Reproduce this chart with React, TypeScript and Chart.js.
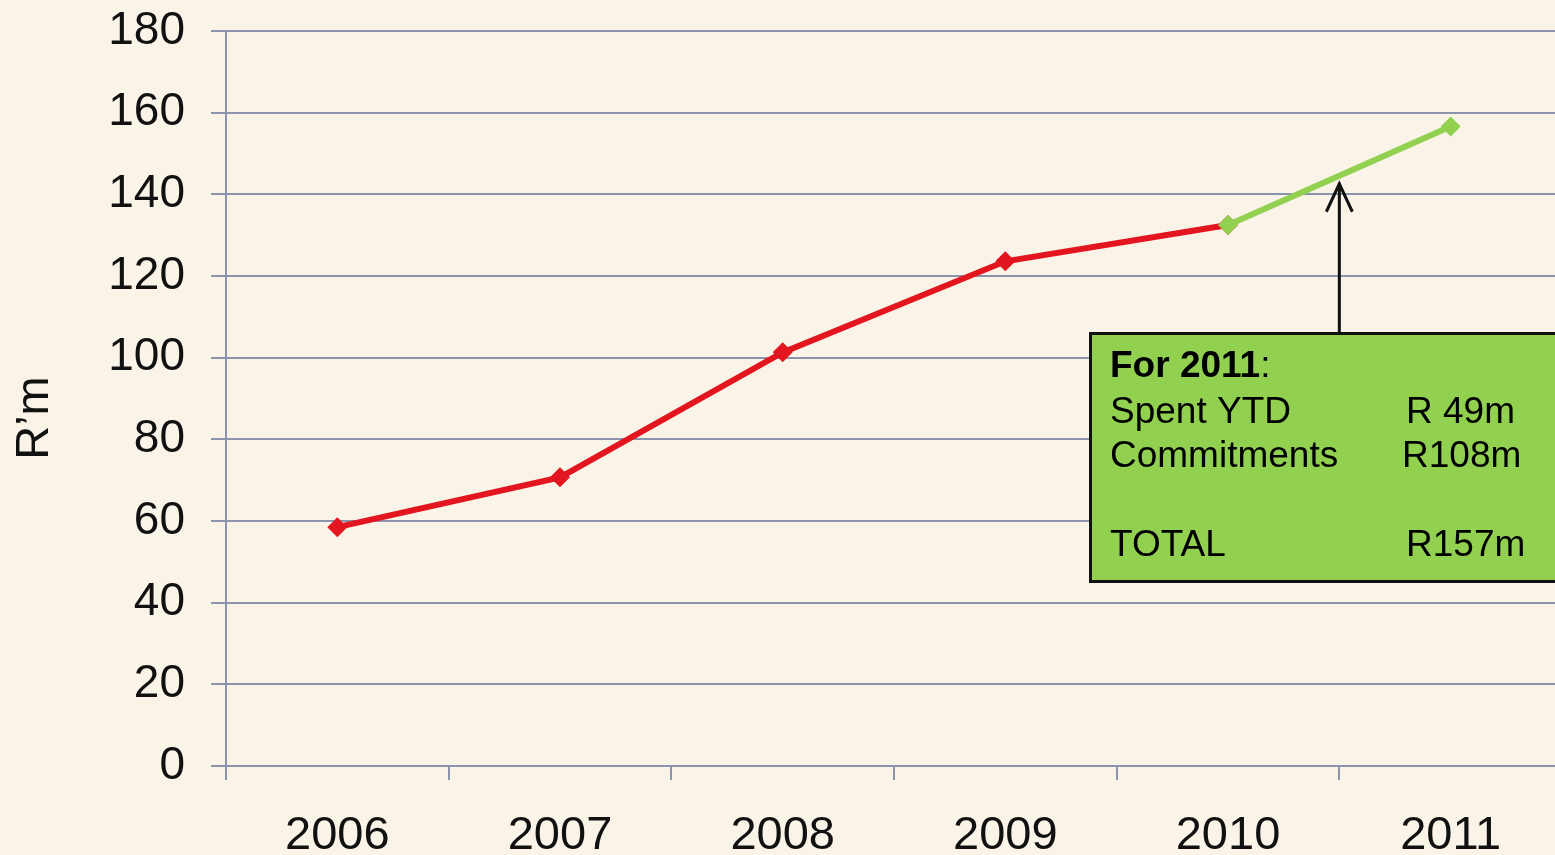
import React, { useEffect, useRef } from "react";
import { Chart, registerables } from "chart.js";

Chart.register(...registerables);

const years = ["2006", "2007", "2008", "2009", "2010", "2011"];
const actualSpend = [58.5, 70.7, 101.3, 123.6, 132.5, null];
const forecastSpend = [null, null, null, null, 132.5, 156.6];
const yTitle = "R\u2019m";
const noteTitle = "For 2011";
const noteRows = [
  ["Spent YTD", "R 49m"],
  ["Commitments", "R108m"],
  ["", ""],
  ["TOTAL", "R157m"],
];

const BG = "#f9f3e8";
const GRID = "#8a94ad";
const FONT = "'Liberation Sans', Arial, sans-serif";

const overlayPlugin = {
  id: "overlay",
  beforeDraw(chart: any) {
    const { ctx } = chart;
    ctx.save();
    ctx.fillStyle = BG;
    ctx.fillRect(0, 0, chart.width, chart.height);
    ctx.restore();
  },
  afterDraw(chart: any) {
    const { ctx } = chart;
    const x = chart.scales.x;
    const y = chart.scales.y;
    ctx.save();
    // y-axis title
    ctx.translate(35, 418);
    ctx.rotate(-Math.PI / 2);
    ctx.fillStyle = "#111";
    ctx.font = `47px ${FONT}`;
    ctx.textAlign = "center";
    ctx.textBaseline = "middle";
    ctx.fillText(yTitle, 0, 0);
    ctx.restore();

    // arrow pointing to forecast line
    const ax = (x.getPixelForValue(4) + x.getPixelForValue(5)) / 2;
    const midVal = ((forecastSpend[4] as number) + (forecastSpend[5] as number)) / 2;
    const tipY = y.getPixelForValue(midVal) + 7;
    ctx.save();
    ctx.strokeStyle = "#111";
    ctx.lineWidth = 3;
    ctx.beginPath();
    ctx.moveTo(ax, 332);
    ctx.lineTo(ax, tipY);
    ctx.stroke();
    ctx.beginPath();
    ctx.moveTo(ax - 13, tipY + 29);
    ctx.lineTo(ax, tipY + 1);
    ctx.lineTo(ax + 13, tipY + 29);
    ctx.stroke();
    ctx.restore();

    // note box
    ctx.save();
    ctx.fillStyle = "#92d050";
    ctx.strokeStyle = "#111";
    ctx.lineWidth = 3;
    ctx.fillRect(1090, 333, 500, 249);
    ctx.strokeRect(1090.5, 333.5, 500, 248);
    ctx.fillStyle = "#000";
    ctx.textBaseline = "alphabetic";
    ctx.textAlign = "left";
    ctx.font = `bold 37px ${FONT}`;
    ctx.fillText(noteTitle, 1110, 377);
    const w = ctx.measureText(noteTitle).width;
    ctx.font = `37px ${FONT}`;
    ctx.fillText(":", 1110 + w, 377);
    const baselines = [423, 467, 512, 556];
    const rightX = [1406, 1402, 1406, 1406];
    noteRows.forEach((r, i) => {
      ctx.fillText(r[0], 1110, baselines[i]);
      ctx.fillText(r[1], rightX[i], baselines[i]);
    });
    ctx.restore();
  },
};

export default function App() {
  const ref = useRef<HTMLCanvasElement>(null);
  useEffect(() => {
    if (!ref.current) return;
    const chart = new Chart(ref.current, {
      type: "line",
      data: {
        labels: years,
        datasets: [
          {
            label: "Forecast",
            data: forecastSpend,
            borderColor: "#92d050",
            backgroundColor: "#92d050",
            borderWidth: 6,
            pointStyle: "rectRot",
            pointRadius: 10,
            pointBorderWidth: 0,
            order: 0,
          },
          {
            label: "Actual",
            data: actualSpend,
            borderColor: "#e3151e",
            backgroundColor: "#e3151e",
            borderWidth: 6,
            pointStyle: "rectRot",
            pointRadius: 10,
            pointBorderWidth: 0,
            order: 1,
          },
        ],
      },
      plugins: [overlayPlugin],
      options: {
        responsive: false,
        animation: false,
        layout: { padding: { top: 31, right: 13, left: 0, bottom: 0 } },
        plugins: { legend: { display: false }, tooltip: { enabled: false } },
        scales: {
          x: {
            offset: true,
            grid: {
              offset: true,
              drawOnChartArea: false,
              drawTicks: true,
              tickLength: 14,
              color: GRID,
              lineWidth: 2,
            },
            border: { display: true, color: GRID, width: 2 },
            ticks: {
              color: "#111",
              font: { family: FONT, size: 47 },
              padding: 28,
              maxRotation: 0,
            },
            afterFit(scale: any) {
              scale.height = 89;
              scale.paddingLeft = 0;
              scale.paddingRight = 0;
            },
          },
          y: {
            min: 0,
            max: 180,
            ticks: {
              stepSize: 20,
              color: "#111",
              font: { family: FONT, size: 46 },
              padding: 26,
            },
            grid: { color: GRID, lineWidth: 2, tickLength: 15 },
            border: { display: true, color: GRID, width: 2 },
            afterFit(scale: any) {
              scale.width = 226;
              scale.paddingTop = 0;
              scale.paddingBottom = 0;
            },
          },
        },
      },
    });
    return () => chart.destroy();
  }, []);
  return (
    <div
      style={{
        position: "absolute",
        left: 0,
        top: 0,
        width: 1555,
        height: 855,
        overflow: "hidden",
        background: BG,
      }}
    >
      <canvas ref={ref} width={1575} height={855} style={{ display: "block" }} />
    </div>
  );
}
